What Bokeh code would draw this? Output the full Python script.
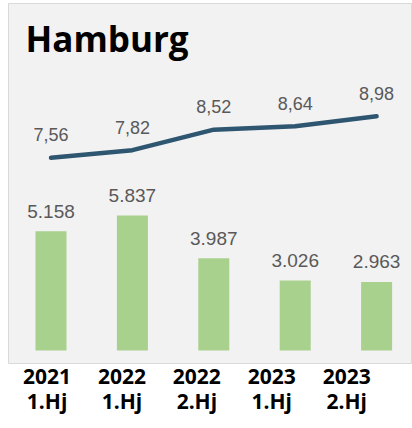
from bokeh.plotting import figure
from bokeh.models import Range1d, LinearAxis, FixedTicker, Label, ColumnDataSource
from bokeh.core.properties import value
from bokeh.embed import file_html
from bokeh.resources import INLINE

# ---- data ----
years = ["2021", "2022", "2022", "2023", "2023"]
halves = ["1.Hj", "1.Hj", "2.Hj", "1.Hj", "2.Hj"]
bar_values = [5158, 5837, 3987, 3026, 2963]
bar_labels = ["5.158", "5.837", "3.987", "3.026", "2.963"]
line_values = [7.56, 7.82, 8.52, 8.64, 8.98]
line_labels = ["7,56", "7,82", "8,52", "8,64", "8,98"]
title_text = "Hamburg"

idx = list(range(len(years)))

src = ColumnDataSource(dict(
    x=idx, bars=bar_values, blab=bar_labels, line=line_values, llab=line_labels,
))

p = figure(width=412, height=428,
           x_range=Range1d(-0.522, 4.441),
           y_range=Range1d(-562, 15002),
           output_backend="svg", toolbar_location=None,
           x_axis_location=None, y_axis_location=None,
           min_border_left=8, min_border_right=0, min_border_top=3,
           min_border_bottom=65)
p.background_fill_color = "#f2f2f2"
p.border_fill_color = "white"
p.outline_line_color = "#d9d9d9"
p.grid.visible = False

p.extra_y_ranges = {"rate": Range1d(0.54, 12.826)}
p.extra_x_ranges = {"cat": Range1d(-0.515, 4.879)}

# bars
p.vbar(x="x", top="bars", bottom=0, width=0.381, source=src,
       fill_color="#a9d18e", line_color=None)
p.text(x="x", y="bars", text="blab", source=src, y_offset=-20,
       text_align="center", text_baseline="middle",
       text_font=value("Liberation Sans"), text_font_size="19px",
       text_color="#595959")

# line
p.line(x="x", y="line", source=src, y_range_name="rate",
       line_color="#2f5671", line_width=4.5, line_cap="round", line_join="round")
p.text(x="x", y="line", text="llab", source=src, y_range_name="rate",
       y_offset=-23, text_align="center", text_baseline="middle",
       text_font=value("Liberation Sans"), text_font_size="18px",
       text_color="#595959")

# category labels (two rows)
def cat_axis(labels, standoff):
    ax = LinearAxis(x_range_name="cat",
                    ticker=FixedTicker(ticks=idx),
                    major_label_overrides={i: t for i, t in zip(idx, labels)})
    ax.axis_line_color = None
    ax.major_tick_line_color = None
    ax.minor_tick_line_color = None
    ax.major_tick_out = 0
    ax.major_tick_in = 0
    ax.major_label_standoff = standoff
    ax.major_label_text_font = "Open Sans"
    ax.major_label_text_font_style = "bold"
    ax.major_label_text_font_size = "21px"
    ax.major_label_text_color = "black"
    return ax

p.add_layout(cat_axis(years, 5), "below")
p.add_layout(cat_axis(halves, 0), "below")

# title
p.add_layout(Label(x=17, y=325, x_units="screen", y_units="screen",
                   text=title_text, text_font="Open Sans", text_font_style="bold",
                   text_font_size="35px", text_baseline="alphabetic",
                   text_color="black"))

open("out.html", "w").write(file_html(p, INLINE))
